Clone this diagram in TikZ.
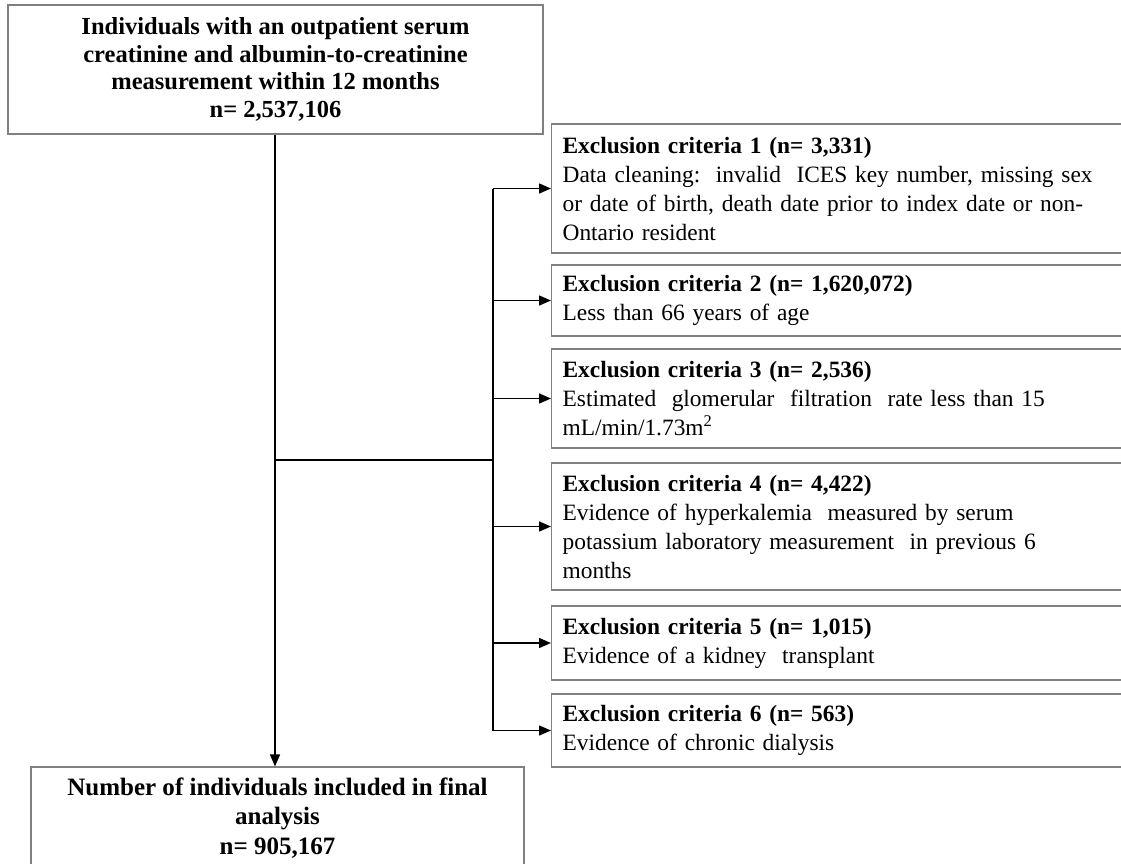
\documentclass[tikz,border=0pt]{standalone}
\usepackage{fontspec}
\setmainfont{Liberation Serif}
\usetikzlibrary{arrows.meta}
\begin{document}
\begin{tikzpicture}[x=1pt,y=-1pt,
  mainbox/.style={draw=black!50,line width=1.2pt,rectangle,align=center,inner sep=4pt,
    font=\fontsize{24.5}{27.5}\selectfont\bfseries},
  exbox/.style={draw=black!50,line width=1.2pt,rectangle,align=left,anchor=west,
    text width=558pt,inner xsep=11pt,inner ysep=2pt,
    font=\fontsize{23.4}{29}\selectfont},
  conn/.style={draw=black,line width=1.4pt},
  arr/.style={conn,-{Triangle[length=12pt,width=10pt]}}]
\useasboundingbox (0,0) rectangle (1121,864);
\node[mainbox,minimum width=535pt,minimum height=129pt] (top) at (275.5,69.5)
  {Individuals with an outpatient serum\\creatinine and albumin-to-creatinine\\measurement within 12 months\\n= 2,537,106};
\node[mainbox,minimum width=493pt,minimum height=102pt,font=\fontsize{25}{29.5}\selectfont\bfseries] (bot) at (277.5,818)
  {Number of individuals included in final\\analysis\\n= 905,167};
\node[exbox,minimum height=129pt] (ex1) at (551,188.5)
  {\textbf{Exclusion criteria 1 (n= 3,331)}\\Data cleaning:\ \ invalid\ \ ICES key number, missing sex\\or date of birth, death date prior to index date or non-\\Ontario resident};
\node[exbox,minimum height=71pt] (ex2) at (551,300.5)
  {\textbf{Exclusion criteria 2 (n= 1,620,072)}\\Less than 66 years of age};
\node[exbox,minimum height=99pt] (ex3) at (551,398.5)
  {\textbf{Exclusion criteria 3 (n= 2,536)}\\Estimated\ \ glomerular\ \ filtration\ \ rate less than 15\\mL/min/1.73m\textsuperscript{2}};
\node[exbox,minimum height=127pt] (ex4) at (551,526.5)
  {\textbf{Exclusion criteria 4 (n= 4,422)}\\Evidence of hyperkalemia\ \ measured by serum\\potassium laboratory measurement\ \ in previous 6\\months};
\node[exbox,minimum height=74pt] (ex5) at (551,643)
  {\textbf{Exclusion criteria 5 (n= 1,015)}\\Evidence of a kidney\ \ transplant};
\node[exbox,minimum height=73pt] (ex6) at (551,730.5)
  {\textbf{Exclusion criteria 6 (n= 563)}\\Evidence of chronic dialysis};
\coordinate (bx) at (493,0);
\coordinate (mx) at (275,0);
\coordinate (jn) at (275,460);
\draw[arr] (top.south -| mx) -- (bot.north -| mx);
\draw[conn] (jn) -- (jn -| bx);
\draw[conn] (ex1.west -| bx) -- (ex6.west -| bx);
\foreach \n in {ex1,ex2,ex3,ex4,ex5,ex6}
  \draw[arr] (\n.west -| bx) -- (\n.west);
\end{tikzpicture}
\end{document}
